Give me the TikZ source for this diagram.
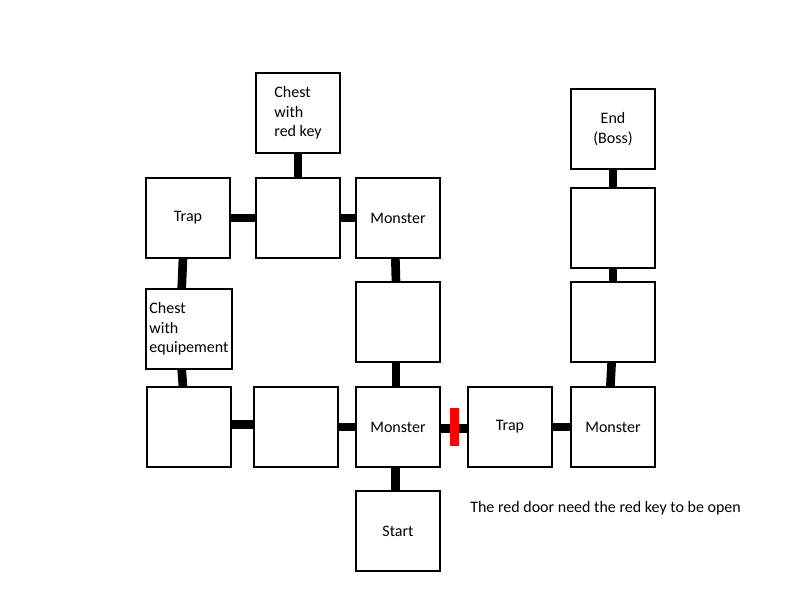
\documentclass[tikz,border=0pt]{standalone}
\usepackage{fontspec}
\setmainfont{Carlito}
\usetikzlibrary{positioning,calc}
\tikzset{
  room/.style={draw, rectangle, line width=1.6pt, outer sep=0pt, minimum width=63pt, minimum height=60pt, inner sep=1pt, align=center, font=\fontsize{12}{14.6}\selectfont},
  link/.style={line width=6.5pt, black},
  door/.style={fill=red, draw=none, rectangle, minimum width=6.75pt, minimum height=29pt, inner sep=0pt},
  note/.style={font=\fontsize{12}{14.6}\selectfont, inner sep=0pt, anchor=west},
}
\begin{document}
\begin{tikzpicture}[x=0.75pt, y=-0.75pt]
\useasboundingbox (0,0) rectangle (800,600);

% bottom row
\node[room] (monC) at (398,427) {Monster};
\node[room, left=13.5pt of monC] (e2) {};
\node[room, left=17.25pt of e2] (e1) {};
\node[room, right=21pt of monC] (trapB) {Trap};
\node[room, right=14.25pt of trapB] (monR) {Monster};
\node[room, below=18pt of monC] (start) {Start};

% middle column
\node[room, above=18.75pt of monC] (emptyM) {};
\node[room, above=18pt of emptyM] (monT) {Monster};
\node[room, left=12pt of monT] (emptyT) {};
\node[room, left=19.5pt of emptyT] (trapT) {Trap};
\node[room, above=18.75pt of emptyT, align=left] (key) {Chest\\with\\red key};

% left column
\node[room, above=13.5pt of e1, align=left, minimum width=64pt] (chestEq) {Chest\\with\\equipement};

% right column
\node[room, above=18.75pt of monR] (r2) {};
\node[room, above=10.5pt of r2] (r1) {};
\node[room, above=14.25pt of r1] (endB) {End\\(Boss)};

\draw[link] (key) -- (emptyT);
\draw[link] (trapT) -- (emptyT);
\draw[link] (emptyT) -- (monT);
\draw[link] ([xshift=-3.75pt]trapT.south) -- ([xshift=-5.5pt]chestEq.north);
\draw[link] ([xshift=-5.5pt]chestEq.south) -- ([xshift=-4.5pt]e1.north);
\draw[link] ([xshift=-2pt]monT.south) -- ([xshift=-1.5pt]emptyM.north);
\draw[link] ([xshift=-1.5pt]emptyM.south) -- ([xshift=-1.5pt]monC.north);
\draw[link] ([yshift=2pt]e1.east) -- ([yshift=2pt]e2.west);
\draw[link] (e2) -- (monC);
\draw[link] ([xshift=-2pt]monC.south) -- ([xshift=-2pt]start.north);
\draw[link] ([yshift=-1pt]monC.east) -- ([yshift=-1pt]trapB.west);
\draw[link] (trapB) -- (monR);
\draw[link] ([xshift=-2pt]monR.north) -- ([xshift=-1pt]r2.south);
\draw[link] (r2) -- (r1);
\draw[link] (r1) -- (endB);

\node[door] (door) at ($(monC.east)!0.5!(trapB.west)$) {};

\node[note] (hint) at (470,508) {The red door need the red key to be open};
\end{tikzpicture}
\end{document}
